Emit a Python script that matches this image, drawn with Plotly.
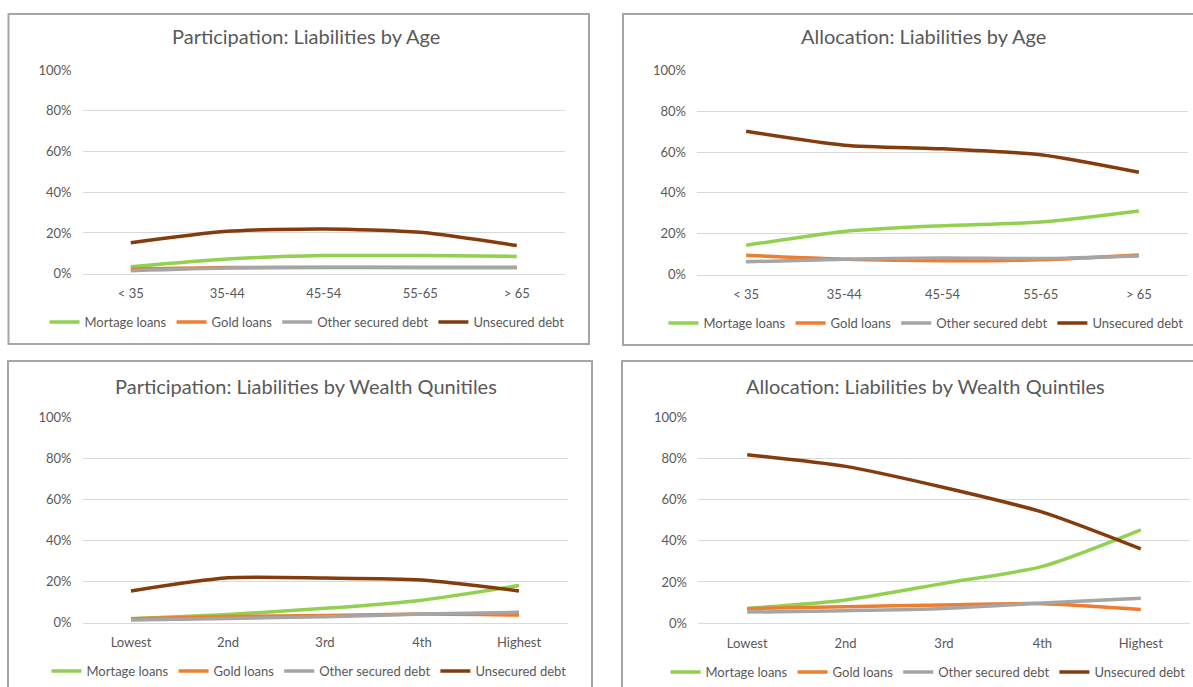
import plotly.graph_objects as go

W, H = 1193, 687

series_names = ["Mortage loans", "Gold loans", "Other secured debt", "Unsecured debt"]
series_colors = ["#92D050", "#ED7D31", "#A5A5A5", "#843C0C"]

age_groups = ["< 35", "35-44", "45-54", "55-65", "> 65"]
wealth_groups = ["Lowest", "2nd", "3rd", "4th", "Highest"]

# Participation by age (%)
part_age_mortgage = [3.4, 7.2, 8.9, 8.9, 8.5]
part_age_gold = [2.3, 3.0, 3.1, 3.0, 3.0]
part_age_other = [1.5, 2.8, 3.2, 3.0, 3.0]
part_age_unsecured = [15.2, 20.8, 22.0, 20.3, 13.8]

# Allocation by age (%)
alloc_age_mortgage = [14.3, 21.1, 23.9, 25.7, 31.1]
alloc_age_gold = [9.4, 7.5, 6.7, 7.2, 9.6]
alloc_age_other = [6.2, 7.5, 8.1, 7.8, 9.1]
alloc_age_unsecured = [70.2, 63.4, 61.6, 58.7, 50.1]

# Participation by wealth quintile (%)
part_w_mortgage = [1.9, 4.0, 7.0, 11.0, 18.1]
part_w_gold = [1.9, 3.0, 3.5, 4.2, 3.7]
part_w_other = [1.3, 2.1, 2.9, 4.2, 5.1]
part_w_unsecured = [15.5, 21.9, 21.8, 20.8, 15.5]

# Allocation by wealth quintile (%)
alloc_w_mortgage = [7.1, 11.2, 19.3, 27.6, 45.4]
alloc_w_gold = [7.0, 7.9, 8.8, 9.4, 6.6]
alloc_w_other = [5.3, 6.0, 7.1, 9.7, 12.0]
alloc_w_unsecured = [82.0, 76.3, 66.0, 54.0, 36.1]

y_ticks = [0, 20, 40, 60, 80, 100]

panels = [
    dict(title="Participation: Liabilities by Age", cats=age_groups,
         data=[part_age_mortgage, part_age_gold, part_age_other, part_age_unsecured],
         plot=(82.5, 565, 70, 273.7), title_xy=(306, 36), legend_xy=(307, 322),
         box=(8.5, 589, 14, 344)),
    dict(title="Allocation: Liabilities by Age", cats=age_groups,
         data=[alloc_age_mortgage, alloc_age_gold, alloc_age_other, alloc_age_unsecured],
         plot=(697, 1188, 70.5, 274.5), title_xy=(923, 36), legend_xy=(926, 323),
         box=(623, 1205, 14, 345)),
    dict(title="Participation: Liabilities by Wealth Qunitiles", cats=wealth_groups,
         data=[part_w_mortgage, part_w_gold, part_w_other, part_w_unsecured],
         plot=(82.5, 567.5, 417.7, 622.7), title_xy=(306, 386), legend_xy=(309, 671),
         box=(8, 592, 361, 700)),
    dict(title="Allocation: Liabilities by Wealth Quintiles", cats=wealth_groups,
         data=[alloc_w_mortgage, alloc_w_gold, alloc_w_other, alloc_w_unsecured],
         plot=(698, 1190, 417.7, 623), title_xy=(925, 386), legend_xy=(928, 672),
         box=(622, 1205, 361, 700)),
]

FONT = "Lato, 'Liberation Sans', Arial, sans-serif"
TXT = "#595959"
GRID = "#D9D9D9"

fig = go.Figure()
layout = dict(
    width=W, height=H, autosize=False,
    margin=dict(l=0, r=0, t=0, b=0, autoexpand=False),
    paper_bgcolor="white", plot_bgcolor="white",
    font=dict(family=FONT, color=TXT, size=13),
    shapes=[], annotations=[],
)

def fx(px):
    return px / W

def fy(py):
    return 1 - py / H

for i, p in enumerate(panels):
    n = i + 1
    xa = "x" if n == 1 else f"x{n}"
    ya = "y" if n == 1 else f"y{n}"
    leg = "legend" if n == 1 else f"legend{n}"
    for name, color, vals in zip(series_names, series_colors, p["data"]):
        fig.add_trace(go.Scatter(
            x=p["cats"], y=vals, name=name, mode="lines",
            line=dict(color=color, width=3.5, shape="spline", smoothing=0.7),
            xaxis=xa, yaxis=ya, legend=leg, hoverinfo="skip",
        ))
    x0, x1, ytop, ybot = p["plot"]
    layout[f"xaxis{n if n > 1 else ''}"] = dict(
        domain=[fx(x0), fx(x1)], anchor=ya, type="category",
        range=[-0.5, len(p["cats"]) - 0.5],
        showgrid=False, showline=True, linecolor=GRID, linewidth=1,
        ticks="", tickfont=dict(size=13, color=TXT, family=FONT),
        ticklabelstandoff=8, fixedrange=True,
    )
    layout[f"yaxis{n if n > 1 else ''}"] = dict(
        domain=[fy(ybot), fy(ytop)], anchor=xa, range=[0, 100],
        tickvals=y_ticks, ticktext=[f"{v}%" for v in y_ticks],
        showgrid=True, gridcolor=GRID, gridwidth=1, zeroline=False,
        showline=False, ticks="", tickfont=dict(size=13, color=TXT, family=FONT),
        ticklabelstandoff=10, fixedrange=True,
    )
    lx, ly = p["legend_xy"]
    layout[leg] = dict(
        orientation="h", xref="container", yref="container",
        x=fx(lx), xanchor="center", y=fy(ly), yanchor="middle",
        bgcolor="rgba(0,0,0,0)", font=dict(size=13, color=TXT, family=FONT),
        itemwidth=30, tracegroupgap=0,
    )
    tx, ty = p["title_xy"]
    layout["annotations"].append(dict(
        text=p["title"], x=fx(tx), y=fy(ty), xref="paper", yref="paper",
        xanchor="center", yanchor="middle", showarrow=False,
        font=dict(size=20, color=TXT, family=FONT),
    ))
    bx0, bx1, by0, by1 = p["box"]
    layout["shapes"].append(dict(
        type="rect", xref="paper", yref="paper",
        x0=fx(bx0), x1=fx(bx1), y0=fy(by1), y1=fy(by0),
        line=dict(color="#A6A6A6", width=2), fillcolor="rgba(0,0,0,0)",
    ))

fig.update_layout(**layout)
fig.write_html(
    "out.html",
    config={"displayModeBar": False},
    post_script="document.body.style.margin='0';document.body.style.overflow='hidden';",
)
